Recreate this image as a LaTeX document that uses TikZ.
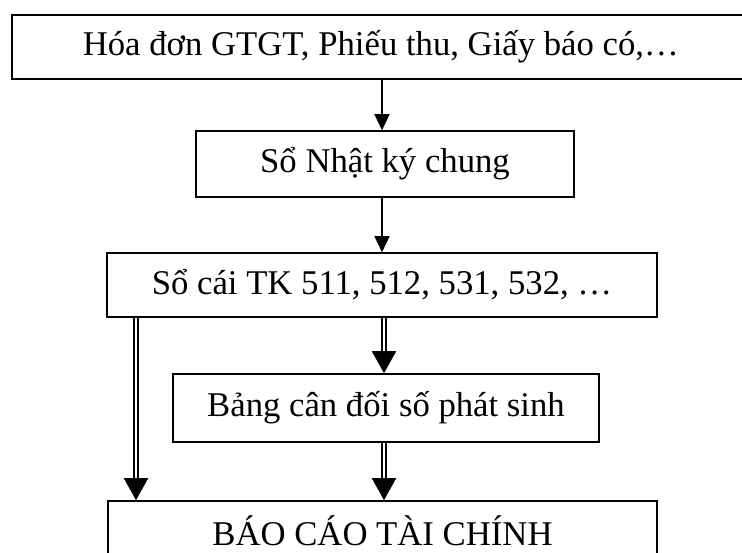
\documentclass[tikz,border=0pt]{standalone}
\usepackage{fontspec}
\setmainfont{Liberation Serif}
\usetikzlibrary{arrows.meta}
\begin{document}
\begin{tikzpicture}[x=1pt,y=-1pt,
  box/.style={draw,line width=1.6pt,inner sep=0pt,font=\fontsize{34.7}{40}\selectfont},
  one/.style={line width=1.5pt,-{Triangle[length=16pt,width=15pt]}},
  two/.style={double,double distance=2.6pt,line width=2pt,-{Triangle[length=22pt,width=24pt]}}]
	\useasboundingbox (0,0) rectangle (742,553);
	\node[box,minimum width=750pt,minimum height=64pt,anchor=west] (hd) at (11,47) {Hóa đơn GTGT, Phiếu thu, Giấy báo có,…\rule{12pt}{0pt}};
	\node[box,minimum width=378pt,minimum height=66pt] (nkc) at (385,164) {Sổ Nhật ký chung};
	\node[box,minimum width=550pt,minimum height=64pt] (sc) at (382,285) {Sổ cái TK 511, 512, 531, 532, …};
	\node[box,minimum width=426pt,minimum height=68pt] (bcd) at (386,408) {Bảng cân đối số phát sinh};
	\node[box,minimum width=549pt,minimum height=60pt] (bctc) at (382.5,531) {BÁO CÁO TÀI CHÍNH};
	\coordinate (c) at (382,0);
	\coordinate (m) at (384,0);
	\coordinate (l) at (136,0);
	\draw[one] (hd.south -| c) -- (nkc.north -| c);
	\draw[one] (nkc.south -| c) -- (sc.north -| c);
	\draw[two] (sc.south -| m) -- (bcd.north -| m);
	\draw[two] (bcd.south -| m) -- (bctc.north -| m);
	\draw[two] (sc.south -| l) -- (bctc.north -| l);
\end{tikzpicture}
\end{document}
